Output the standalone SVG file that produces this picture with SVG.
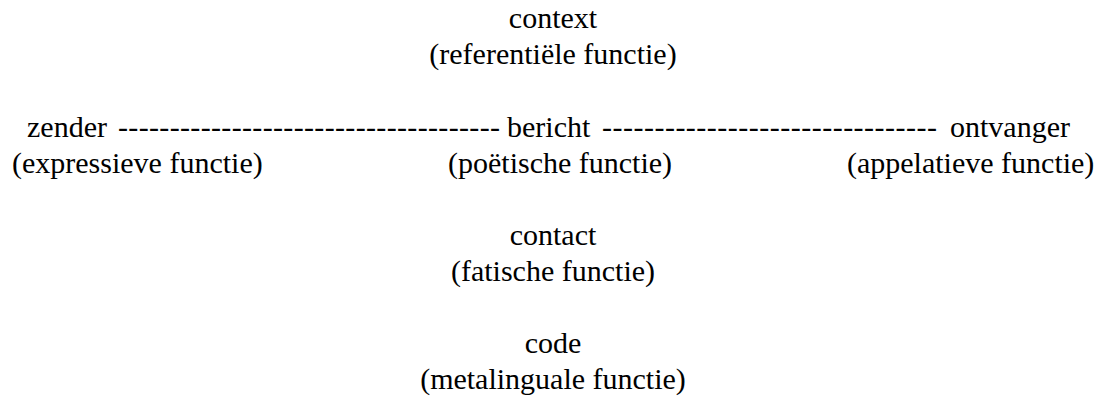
<svg xmlns="http://www.w3.org/2000/svg" width="1099" height="397" viewBox="0 0 1099 397">
<style>
text{font-family:"Liberation Serif","Times New Roman",serif;font-size:30px;fill:#000}
.c{text-anchor:middle}
</style>
<rect width="1099" height="397" fill="#fff"/>
<g id="connectors">
<text x="118" y="137" textLength="382" lengthAdjust="spacing">-------------------------------------</text>
<text x="602" y="137" textLength="335" lengthAdjust="spacing">--------------------------------</text>
</g>
<g id="context">
<text class="c" x="553" y="28">context</text>
<text class="c" x="553" y="64">(referentiële functie)</text>
</g>
<g id="zender">
<text x="27" y="137">zender</text>
<text x="12" y="173">(expressieve functie)</text>
</g>
<g id="bericht">
<text x="507" y="137">bericht</text>
<text x="448" y="173">(poëtische functie)</text>
</g>
<g id="ontvanger">
<text x="950" y="137">ontvanger</text>
<text x="847" y="173">(appelatieve functie)</text>
</g>
<g id="contact">
<text class="c" x="553" y="245">contact</text>
<text class="c" x="553" y="281">(fatische functie)</text>
</g>
<g id="code">
<text class="c" x="553" y="353">code</text>
<text class="c" x="553" y="389">(metalinguale functie)</text>
</g>
</svg>
